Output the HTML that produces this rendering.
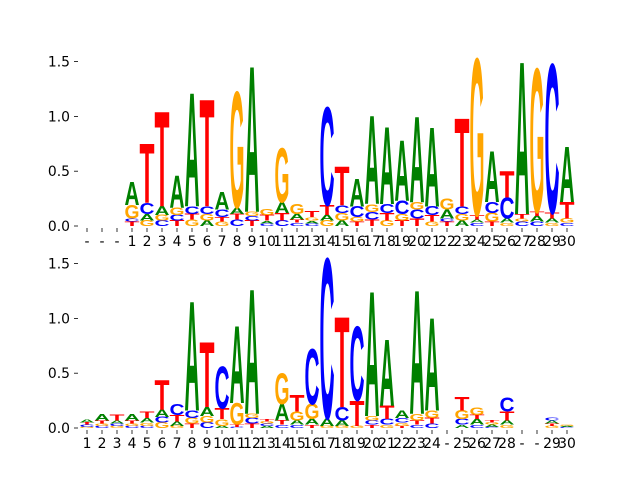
<!DOCTYPE html>
<html><head><meta charset="utf-8"><style>
body{margin:0;background:#fff}
svg{display:block;font-family:"DejaVu Sans","Liberation Sans",sans-serif}
</style></head><body>
<svg id="chart" width="640" height="480" viewBox="0 0 640 480" xmlns="http://www.w3.org/2000/svg"></svg>
<script>
const topLabels = ["-","-","-","1","2","3","4","5","6","7","8","9","10","11","12","13","14","15","16","17","18","19","20","21","22","23","24","25","26","27","28","29","30"];
const topStacks = [
[],[],[],
[["T",.04],["C",.03],["G",.12],["A",.21]],
[["G",.05],["A",.06],["C",.10],["T",.54]],
[["C",.05],["G",.05],["A",.08],["T",.86]],
[["T",.05],["C",.05],["G",.07],["A",.29]],
[["G",.06],["T",.05],["C",.07],["A",1.03]],
[["A",.05],["G",.06],["C",.07],["T",.97]],
[["G",.04],["T",.04],["C",.07],["A",.16]],
[["C",.06],["T",.05],["A",.06],["G",1.05]],
[["T",.05],["C",.04],["G",.04],["A",1.32]],
[["C",.025],["A",.025],["T",.05],["G",.05]],
[["C",.05],["T",.07],["A",.10],["G",.49]],
[["C",.03],["T",.03],["A",.05],["G",.09]],
[["C",.025],["A",.025],["G",.03],["T",.05]],
[["G",.05],["A",.05],["T",.09],["C",.89]],
[["A",.05],["G",.07],["C",.07],["T",.35]],
[["T",.04],["G",.04],["C",.10],["A",.25]],
[["T",.06],["C",.07],["G",.07],["A",.80]],
[["G",.05],["T",.07],["C",.08],["A",.70]],
[["T",.05],["G",.06],["C",.12],["A",.55]],
[["T",.07],["C",.08],["G",.07],["A",.78]],
[["G",.04],["T",.06],["C",.08],["A",.72]],
[["T",.04],["C",.03],["A",.08],["G",.10]],
[["A",.05],["G",.06],["C",.07],["T",.80]],
[["C",.03],["A",.03],["T",.04],["G",1.42]],
[["T",.04],["G",.08],["C",.10],["A",.46]],
[["G",.03],["A",.04],["C",.19],["T",.24]],
[["C",.04],["G",.03],["T",.04],["A",1.38]],
[["C",.04],["A",.05],["T",.04],["G",1.30]],
[["G",.03],["A",.04],["T",.05],["C",1.35]],
[["C",.03],["G",.04],["T",.15],["A",.50]]
];
const botLabels = ["1","2","3","4","5","6","7","8","9","10","11","12","13","14","15","16","17","18","19","20","21","22","23","24","-","25","26","27","28","-","-","29","30"];
const botStacks = [
[["G",.01],["C",.02],["T",.02],["A",.03]],
[["C",.02],["G",.02],["T",.03],["A",.06]],
[["G",.02],["C",.02],["A",.03],["T",.05]],
[["C",.02],["G",.02],["T",.03],["A",.06]],
[["C",.02],["G",.03],["A",.04],["T",.06]],
[["G",.05],["C",.05],["A",.07],["T",.27]],
[["G",.02],["A",.04],["T",.06],["C",.10]],
[["T",.04],["G",.05],["C",.07],["A",.99]],
[["C",.05],["G",.06],["A",.08],["T",.59]],
[["A",.02],["G",.06],["T",.10],["C",.38]],
[["C",.01],["T",.02],["G",.20],["A",.70]],
[["T",.04],["C",.05],["G",.04],["A",1.13]],
[["A",.02],["C",.02],["G",.02],["T",.02]],
[["C",.03],["T",.04],["A",.15],["G",.28]],
[["C",.03],["A",.04],["G",.08],["T",.15]],
[["T",.03],["A",.05],["G",.14],["C",.50]],
[["G",.02],["A",.07],["C",1.45]],
[["G",.02],["A",.05],["C",.12],["T",.82]],
[["G",.02],["T",.23],["C",.67]],
[["T",.03],["C",.04],["G",.04],["A",1.13]],
[["G",.03],["C",.05],["T",.12],["A",.60]],
[["T",.02],["G",.03],["C",.04],["A",.07]],
[["C",.03],["T",.04],["G",.06],["A",1.12]],
[["C",.04],["T",.05],["G",.07],["A",.84]],
[],
[["A",.03],["C",.05],["G",.08],["T",.12]],
[["C",.03],["A",.05],["T",.04],["G",.07]],
[["C",.01],["A",.02],["G",.02],["T",.02]],
[["G",.03],["A",.04],["T",.08],["C",.13]],
[],[],
[["G",.02],["T",.02],["A",.03],["C",.03]],
[["C",.01],["A",.01],["G",.01]]
];
const yTicks = [0, 0.5, 1.0, 1.5];

const NS = "http://www.w3.org/2000/svg";
const svg = document.getElementById("chart");
const colors = {A:"#008000",C:"#0000ff",G:"#ffa500",T:"#ff0000"};
const adv = {A:72.2,C:72.2,G:77.8,T:61.1};
const capH = 69;
function mk(tag, attrs){const e=document.createElementNS(NS,tag);for(const k in attrs)e.setAttribute(k,attrs[k]);return e;}

function drawPanel(name, baseY, labels, stacks){
  const unit = 109.6;
  const x0 = 87, step = 15;
  const xScale = i => x0 + i*step;
  const yScale = v => baseY - v*unit;
  const g = mk("g",{});
  
  
  svg.appendChild(g);
  yTicks.forEach(t=>{
    const y = yScale(t);
    const tk = mk("line",{x1:74,x2:78,y1:y,y2:y,stroke:"#000","stroke-width":0.8});
    
    
    g.appendChild(tk);
    const tl = mk("text",{x:70,y:y+5,"text-anchor":"end","font-size":13.9,fill:"#000"});
    
    
    tl.textContent = t.toFixed(1);
    g.appendChild(tl);
  });
  labels.forEach((lab,i)=>{
    const x = xScale(i);
    const tk = mk("line",{x1:x,x2:x,y1:baseY+2,y2:baseY+6,stroke:"#000","stroke-width":0.8});
    
    
    g.appendChild(tk);
    const tl = mk("text",{x:x,y:baseY+20,"text-anchor":"middle","font-size":13.9,fill:"#000"});
    
    
    tl.textContent = lab;
    g.appendChild(tl);
  });
  stacks.forEach((col,i)=>{
    let cum = 0;
    col.forEach(([L,h])=>{
      const yb = yScale(cum);
      const ph = h*unit;
      cum += h;
      const w = 15;
      const sx = w/adv[L], sy = ph/capH;
      const t = mk("text",{transform:`translate(${xScale(i)-w/2},${yb}) scale(${sx},${sy})`,"font-size":100,"font-weight":"bold","font-family":"Liberation Sans, sans-serif",fill:colors[L]});
      
      
      t.textContent = L;
      g.appendChild(t);
    });
  });
}
drawPanel("top-logo-panel", 226, topLabels, topStacks);
drawPanel("bottom-logo-panel", 428, botLabels, botStacks);
</script>
</body></html>
